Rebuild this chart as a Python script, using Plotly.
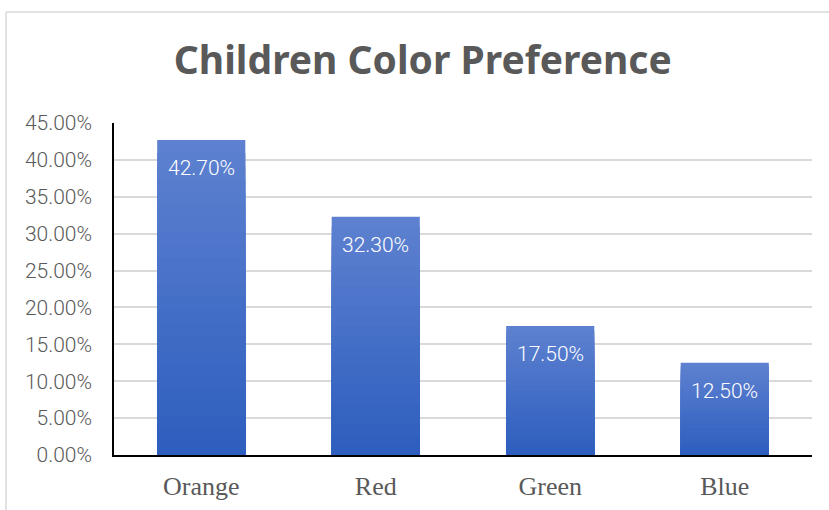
import plotly.graph_objects as go

categories = ["Orange", "Red", "Green", "Blue"]
values = [0.427, 0.323, 0.175, 0.125]
labels = ["42.70%", "32.30%", "17.50%", "12.50%"]
y_ticks = [i * 0.05 for i in range(10)]
y_tick_labels = ["%.2f%%" % (v * 100) for v in y_ticks]

top_rgb = (93, 129, 208)
bot_rgb = (46, 94, 190)
steps = 24

fig = go.Figure()
for k in range(steps):
    t = k / (steps - 1)
    col = "rgb(%d,%d,%d)" % tuple(round(top_rgb[i] + (bot_rgb[i] - top_rgb[i]) * t) for i in range(3))
    fig.add_trace(go.Bar(
        x=categories, y=[v * (1 - k / steps) for v in values],
        marker=dict(color=col, line=dict(width=0)),
        width=0.505, showlegend=False, hoverinfo="skip",
    ))

for c, v, lab in zip(categories, values, labels):
    fig.add_annotation(x=c, y=v, text=lab, showarrow=False, yanchor="middle",
                       yshift=-28, font=dict(family="Roboto", size=21, weight=300, color="white"))

fig.update_layout(
    width=829, height=510,
    margin=dict(l=114, r=17, t=123, b=55),
    paper_bgcolor="white", plot_bgcolor="white",
    barmode="overlay",
    title=dict(text="<b>Children Color Preference</b>", x=0.51, xanchor="center",
               y=1 - 60 / 510, yanchor="middle",
               font=dict(family="Noto Sans", size=39, color="#595959")),
    xaxis=dict(showline=True, linecolor="black", linewidth=2, ticks="", automargin=False,
               tickfont=dict(family="Liberation Serif", size=26, color="#595959"),
               ticklabelstandoff=7),
    yaxis=dict(range=[0, 0.45], tickvals=y_ticks, ticktext=y_tick_labels, automargin=False,
               showline=True, linecolor="black", linewidth=1.5,
               gridcolor="#d9d9d9", gridwidth=1.5, zeroline=False,
               tickfont=dict(family="Roboto", size=21, weight=300, color="#595959"),
               ticklabelstandoff=16),
    shapes=[
        dict(type="line", xref="paper", yref="paper", x0=-108 / 698, x1=1.1,
             y0=1 + 111 / 332, y1=1 + 111 / 332, line=dict(color="#d9d9d9", width=1.5)),
        dict(type="line", xref="paper", yref="paper", x0=-108 / 698, x1=-108 / 698,
             y0=1 + 111 / 332, y1=-0.3, line=dict(color="#d9d9d9", width=1.5)),
    ],
)

fig.write_html("out.html")
